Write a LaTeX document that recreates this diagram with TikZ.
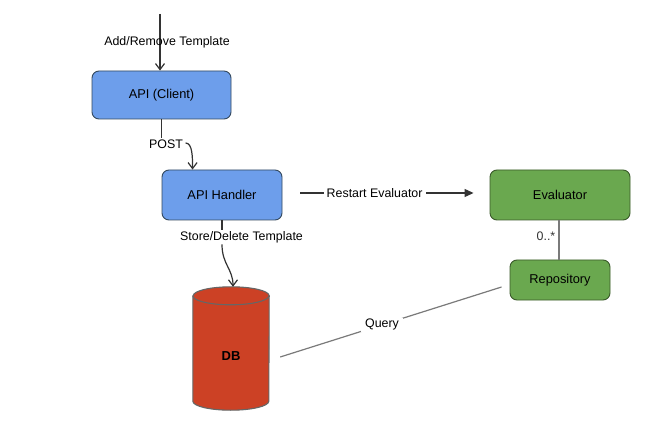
\documentclass[tikz,border=0pt]{standalone}
\usepackage{fontspec}
\setmainfont{Liberation Sans}
\usetikzlibrary{arrows.meta,calc}
\definecolor{bluefill}{HTML}{6D9EEB}
\definecolor{blueline}{HTML}{34495E}
\definecolor{greenfill}{HTML}{6AA84F}
\definecolor{greenline}{HTML}{3A5A2A}
\definecolor{redfill}{HTML}{CC4125}
\definecolor{dbline}{HTML}{666666}
\definecolor{darkline}{HTML}{333333}
\definecolor{lightline}{HTML}{7A7A7A}
\tikzset{
  x=1pt, y=1pt,
  boxtext/.style={font=\fontsize{12.8}{15}\selectfont},
  edgetext/.style={font=\fontsize{12.4}{14}\selectfont, inner sep=1.5pt},
  bluebox/.style={draw=blueline, fill=bluefill, rounded corners=7pt, line width=0.9pt, boxtext},
  greenbox/.style={draw=greenline, fill=greenfill, rounded corners=7pt, line width=0.9pt, boxtext},
  openarr/.style={draw=darkline, line width=1.2pt, -{Straight Barb[length=6pt,width=9pt,line width=1.2pt]}},
  fillarr/.style={draw=darkline, line width=1.2pt, -{Triangle[length=9pt,width=8pt]}},
  plainline/.style={draw=darkline, line width=1.2pt},
  greyline/.style={draw=lightline, line width=1.2pt},
}
\begin{document}
\begin{tikzpicture}
\useasboundingbox[fill=white] (0,0) rectangle (650,-430);

% nodes
\node[bluebox, minimum width=139pt, minimum height=48pt] (client) at (161.5,-95) {API (Client)};
\node[bluebox, minimum width=120pt, minimum height=50pt] (handler) at (222,-195) {API Handler};
\node[greenbox, minimum width=140pt, minimum height=50pt] (evaluator) at (560,-195) {Evaluator};
\node[greenbox, minimum width=100pt, minimum height=40pt] (repo) at (560,-280) {Repository};

% database cylinder
\node[minimum width=76pt, minimum height=123pt, inner sep=0pt] (db) at (231,-348.5) {};
\draw[draw=dbline, fill=redfill, line width=1.1pt]
  ($(db.north west)+(0,-9)$) -- ($(db.south west)+(0,9)$)
  arc[start angle=180, end angle=360, x radius=38, y radius=9]
  -- ($(db.north east)+(0,-9)$)
  arc[start angle=0, end angle=180, x radius=38, y radius=9] -- cycle;
\draw[draw=dbline, line width=1.1pt] ($(db.north west)+(0,-9)$)
  arc[start angle=180, end angle=360, x radius=38, y radius=9];
\node[boxtext, font=\fontsize{13}{15}\selectfont\bfseries] at ($(db.center)+(0,-7.5)$) {DB};

% incoming arrow
\coordinate (start) at (160,-14);
\draw[openarr, line width=1.5pt] (start) -- (start |- client.north);
\node[edgetext] at (167,-42) {Add/Remove Template};

% client -> handler
\node[edgetext] (post) at (166,-144) {POST};
\draw[plainline] (client.south) -- (client.south |- post.north);
\draw[openarr] ($(post.east)+(1,1)$) .. controls +(7,0) and +(0,12) .. ($(handler.north west)+(31,0)$);

% handler -> db
\node[edgetext, fill=white] (store) at (241.5,-237) {Store/Delete Template};
\draw[plainline] (handler.south) -- (handler.south |- store.north);
\draw[openarr] (handler.south |- store.south) .. controls +(0,-20) and +(0,18) .. ($(db.north)+(2,0)$);

% handler -> evaluator
\draw[fillarr, shorten <=18pt, shorten >=16pt] (handler.east |- 0,-193) -- node[pos=0.445, edgetext, fill=white, inner xsep=3pt] {Restart Evaluator} (evaluator.west |- 0,-193);

% evaluator -- repository
\draw[greyline] (evaluator.south -| 559,0) -- (repo.north -| 559,0);
\node[edgetext, anchor=east, text=darkline] at (557,-236) {0..*};

% repository -- db
\draw[greyline] ($(repo.west)+(-8,-7)$) -- node[pos=0.54, edgetext, fill=white, inner xsep=4pt] {Query} ($(db.east)+(11,-8.5)$);
\end{tikzpicture}
\end{document}
